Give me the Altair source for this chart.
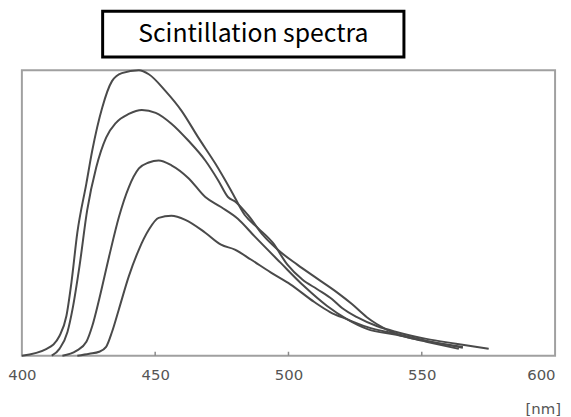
import altair as alt
import pandas as pd

# Wavelength [nm] and relative intensity (0 = bottom frame, 100 = top frame)
wl_a = [400, 409.3, 414.1, 416.7, 418.6, 420.8, 424.2, 426.4, 430.1, 433.8, 437.5, 443.9, 447.6,
        453.9, 459.9, 466.2, 472.5, 478.4, 483.6, 488.5, 494.1, 499.6, 505.2, 510.8, 516.4, 520.1,
        525.7, 533.1, 540.5, 551.7, 562.8, 575.1]
int_a = [0, 2.4, 6.9, 13.9, 25.7, 43.1, 60.4, 71.9, 86.8, 96.2, 99.0, 100, 98.6,
         92.7, 85.8, 76.4, 67.4, 58.0, 49.3, 44.8, 39.6, 31.9, 26.7, 23.3, 19.8, 16.7,
         13.5, 10.4, 8.3, 5.9, 4.2, 2.4]

wl_b = [411.2, 414.1, 417.1, 419.0, 421.6, 424.5, 427.9, 431.6, 435.3, 440.1, 445.0, 450.2, 456.1,
        462.5, 468.8, 473.6, 477.3, 480.3, 484.8, 490.3, 495.9, 503.3, 510.8, 518.2, 523.8, 529.4,
        533.1, 540.5, 551.7, 565.4]
int_b = [0, 2.4, 8.3, 16.3, 31.3, 51.0, 66.0, 76.4, 81.6, 84.7, 86.1, 85.1, 81.3,
         75.3, 68.4, 61.5, 55.6, 53.8, 49.3, 42.4, 37.2, 31.9, 27.0, 22.2, 18.1, 13.5,
         11.1, 7.6, 5.2, 3.1]

wl_c = [415.2, 420.4, 424.2, 426.4, 429.0, 432.7, 436.4, 440.1, 443.9, 447.6, 451.3, 456.1, 462.5,
        468.8, 474.7, 481.0, 487.4, 497.0, 505.9, 514.5, 521.9, 529.4, 540.5, 551.7, 563.9]
int_c = [0, 1.7, 4.9, 10.4, 19.8, 34.7, 48.6, 59.0, 65.6, 67.7, 68.4, 66.7, 62.2,
         55.6, 52.1, 48.0, 41.7, 32.6, 24.3, 17.4, 12.8, 9.4, 7.3, 4.9, 2.4]

wl_d = [420.8, 425.3, 429.0, 431.6, 433.8, 436.4, 440.1, 443.9, 447.6, 451.3, 456.1, 461.3, 468.8,
        474.7, 479.9, 485.9, 493.3, 500.7, 509.7, 515.6, 521.9, 529.4, 540.5, 551.7, 565.4]
int_d = [0, 0.7, 1.4, 3.1, 8.3, 16.3, 27.8, 37.2, 44.1, 48.3, 49.0, 47.6, 43.1,
         38.9, 37.2, 33.7, 29.2, 25.0, 18.8, 15.3, 12.8, 10.1, 7.6, 5.2, 2.8]

x_ticks = [400, 450, 500, 550, 600]
inner_ticks = [450, 500, 550]
title_text = "Scintillation spectra"
unit_text = "[nm]"

rows = []
for name, wl, iv in [("A", wl_a, int_a), ("B", wl_b, int_b), ("C", wl_c, int_c), ("D", wl_d, int_d)]:
    for w, v in zip(wl, iv):
        rows.append({"series": name, "wavelength": w, "intensity": v})
df = pd.DataFrame(rows)

W, H = 538, 288
xscale = alt.Scale(domain=[400, 600], nice=False, zero=False)
yscale = alt.Scale(domain=[0, 100], nice=False)

lines = alt.Chart(df).mark_line(color="#4a4a4a", strokeWidth=2, interpolate="monotone").encode(
    x=alt.X("wavelength:Q", scale=xscale,
            axis=alt.Axis(values=x_ticks, title=None, domain=False, ticks=False, grid=False,
                          labelFont="DejaVu Sans", labelFontSize=15, labelColor="#555555",
                          labelPadding=12,
                          labelAlign={"condition": {"test": "datum.value == 600", "value": "right"},
                                      "value": "center"})),
    y=alt.Y("intensity:Q", scale=yscale, axis=None),
    detail="series:N",
)

ticks = alt.Chart(pd.DataFrame({"wavelength": inner_ticks})).mark_rule(color="#8a8a8a", strokeWidth=1.5).encode(
    x=alt.X("wavelength:Q", scale=xscale),
    y=alt.value(H),
    y2=alt.value(H - 4),
)

unit = alt.Chart(pd.DataFrame({"t": [unit_text]})).mark_text(
    align="right", baseline="middle", font="DejaVu Sans", fontSize=15, color="#555555"
).encode(x=alt.value(544), y=alt.value(342), text="t:N")

box = alt.Chart(pd.DataFrame({"t": [title_text]})).mark_rect(
    fill="white", stroke="black", strokeWidth=3
).encode(x=alt.value(81.5), x2=alt.value(385.5), y=alt.value(-59.5), y2=alt.value(-13.5))

title = alt.Chart(pd.DataFrame({"t": [title_text]})).mark_text(
    align="center", baseline="alphabetic", font="Noto Sans CJK KR", fontSize=25, color="black"
).encode(x=alt.value(233.5), y=alt.value(-29), text="t:N")

chart = alt.layer(lines, ticks, unit, box, title).properties(
    width=W, height=H,
    autosize=alt.AutoSizeParams(type="none"),
    padding={"left": 14, "top": 61, "right": 8, "bottom": 60},
).configure_view(stroke="#a0a0a0", strokeWidth=2)

chart.save("out.html", embed_options={"renderer": "svg", "actions": False})
